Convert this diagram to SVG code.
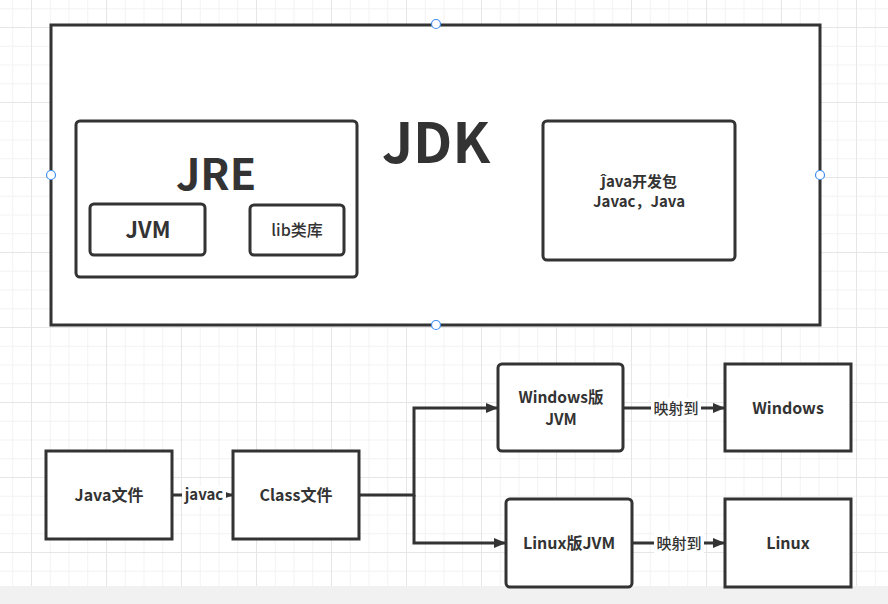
<svg xmlns="http://www.w3.org/2000/svg" width="888" height="604" viewBox="0 0 888 604">
<style>
.box{fill:#fff;stroke:#333;stroke-width:3}
.edge{fill:none;stroke:#333;stroke-width:3}
.t{font-family:"Noto Sans CJK SC","Noto Sans",sans-serif;fill:#333;font-weight:bold;text-anchor:middle}
.lbl{font-family:"Noto Sans CJK SC","Noto Sans",sans-serif;fill:#333;font-weight:500;text-anchor:middle;font-size:15px}
.b{font-weight:bold}
.m{font-weight:500}
.h{fill:#fff;stroke:#3d8ef0;stroke-width:1.2}
</style>
<defs>
<pattern id="gm" width="18.75" height="18.75" patternUnits="userSpaceOnUse" x="12.25" y="8.25">
<path d="M0 0H18.75M0 0V18.75" fill="none" stroke="#f2f2f2" stroke-width="2"/>
</pattern>
<pattern id="gM" width="75" height="75" patternUnits="userSpaceOnUse" x="31" y="27">
<path d="M0 0H75M0 0V75" fill="none" stroke="#e6e6e6" stroke-width="2"/>
</pattern>
<marker id="ar" markerWidth="12" markerHeight="10" refX="12" refY="5" orient="auto" markerUnits="userSpaceOnUse">
<path d="M0 0L12 5L0 10Z" fill="#333"/>
</marker>
</defs>
<rect width="888" height="604" fill="#fff"/>
<rect width="888" height="604" fill="url(#gm)"/>
<rect width="888" height="604" fill="url(#gM)"/>
<rect x="0" y="586" width="888" height="18" fill="#f1f1f1"/>

<g id="jdk">
<rect class="box" x="51" y="25" width="769" height="300"/>
<text class="t" x="436" y="163" font-size="55">JDK</text>
<circle class="h" cx="436" cy="24" r="4.5"/>
<circle class="h" cx="51" cy="175" r="4.5"/>
<circle class="h" cx="820" cy="175" r="4.5"/>
<circle class="h" cx="436" cy="325" r="4.5"/>
</g>
<g id="jre">
<rect class="box" x="76" y="121" width="281" height="156" rx="4"/>
<text class="t" x="216" y="190" font-size="43">JRE</text>
</g>
<g id="jvm">
<rect class="box" x="90" y="204" width="115" height="51" rx="4"/>
<text class="t" x="148" y="238" font-size="22">JVM</text>
</g>
<g id="lib">
<rect class="box" x="250" y="205" width="94" height="50" rx="4"/>
<text class="t m" x="297" y="236" font-size="16">lib类库</text>
</g>
<g id="devkit">
<rect class="box" x="543" y="121" width="192" height="139" rx="4"/>
<text class="t" x="639" y="187" font-size="15">Ĵava开发包</text>
<text class="t" x="639" y="207" font-size="15">Javac，Java</text>
</g>

<g id="connectors">
<path class="edge" d="M172 495H233" marker-end="url(#ar)"/>
<path class="edge" d="M359 495H414V408H498" marker-end="url(#ar)"/>
<path class="edge" d="M414 495V543H506" marker-end="url(#ar)"/>
<path class="edge" d="M623 408H725" marker-end="url(#ar)"/>
<path class="edge" d="M632 543H725" marker-end="url(#ar)"/>
<rect x="182" y="486" width="44" height="20" fill="#fff"/>
<text class="lbl b" x="204" y="500">javac</text>
<rect x="651" y="398" width="50" height="20" fill="#fff"/>
<text class="lbl" x="676" y="414">映射到</text>
<rect x="654" y="533" width="50" height="20" fill="#fff"/>
<text class="lbl" x="679" y="549">映射到</text>
</g>

<g id="javafile">
<rect class="box" x="46" y="451" width="126" height="88"/>
<text class="t" x="109" y="501" font-size="16">Java文件</text>
</g>
<g id="classfile">
<rect class="box" x="233" y="451" width="126" height="88"/>
<text class="t" x="296" y="501" font-size="16">Class文件</text>
</g>
<g id="winjvm">
<rect class="box" x="498" y="364" width="125" height="87" rx="4"/>
<text class="t" x="561" y="403" font-size="15.5">Windows版</text>
<text class="t" x="561" y="425" font-size="15.5">JVM</text>
</g>
<g id="windows">
<rect class="box" x="725" y="364" width="126" height="87"/>
<text class="t" x="788" y="414" font-size="16">Windows</text>
</g>
<g id="linuxjvm">
<rect class="box" x="506" y="499" width="126" height="88" rx="4"/>
<text class="t" x="569" y="549" font-size="16">Linux版JVM</text>
</g>
<g id="linux">
<rect class="box" x="725" y="499" width="126" height="88"/>
<text class="t" x="788" y="549" font-size="16">Linux</text>
</g>
</svg>
